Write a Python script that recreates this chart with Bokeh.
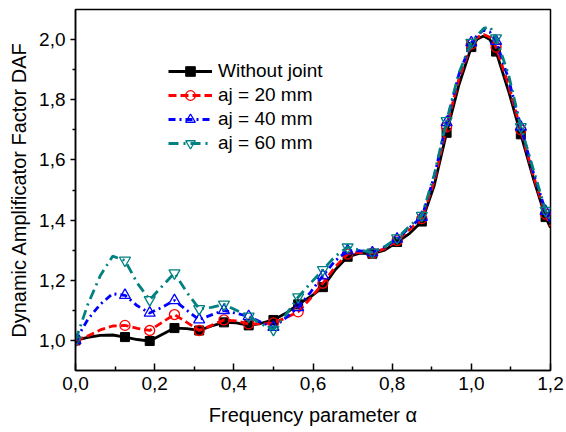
import numpy as np
from bokeh.plotting import figure
from bokeh.models import (Range1d, Legend, LegendItem, FixedTicker,
                          CustomJSTickFormatter)
from bokeh.embed import file_html
from bokeh.resources import INLINE

# ---------------- data ----------------
alpha = [0.0, 0.03125, 0.0625, 0.09375, 0.125, 0.15625, 0.1875, 0.21875, 0.25,
         0.28125, 0.3125, 0.34375, 0.375, 0.40625, 0.4375, 0.46875, 0.5,
         0.53125, 0.5625, 0.59375, 0.625, 0.65625, 0.6875, 0.71875, 0.75,
         0.78125, 0.8125, 0.84375, 0.875, 0.90625, 0.9375, 0.96875, 1.0,
         1.015625, 1.03125, 1.046875, 1.0625, 1.09375, 1.125, 1.15625, 1.1875, 1.2]

daf_without = [1.000, 1.010, 1.017, 1.018, 1.011, 1.003, 0.998, 1.020, 1.041,
               1.039, 1.033, 1.048, 1.060, 1.058, 1.050, 1.057, 1.068,
               1.090, 1.120, 1.145, 1.177, 1.235, 1.278, 1.290, 1.288,
               1.300, 1.327, 1.355, 1.395, 1.515, 1.690, 1.850, 1.975,
               2.002, 2.012, 2.000, 1.960, 1.830, 1.685, 1.540, 1.410, 1.375]

daf_aj20 = [1.000, 1.015, 1.035, 1.048, 1.050, 1.040, 1.033, 1.060, 1.086,
            1.060, 1.033, 1.050, 1.068, 1.065, 1.055, 1.055, 1.058,
            1.075, 1.095, 1.140, 1.190, 1.245, 1.287, 1.293, 1.290,
            1.305, 1.332, 1.368, 1.405, 1.530, 1.710, 1.870, 1.985,
            2.008, 2.017, 2.008, 1.975, 1.850, 1.700, 1.550, 1.420, 1.380]

daf_aj40 = [1.000, 1.070, 1.120, 1.155, 1.150, 1.115, 1.091, 1.110, 1.133,
            1.100, 1.069, 1.085, 1.100, 1.090, 1.080, 1.060, 1.044,
            1.075, 1.110, 1.160, 1.215, 1.265, 1.298, 1.298, 1.292,
            1.310, 1.337, 1.375, 1.410, 1.545, 1.725, 1.885, 1.990,
            2.015, 2.032, 2.025, 1.995, 1.870, 1.710, 1.560, 1.430, 1.390]

daf_aj60 = [1.000, 1.120, 1.215, 1.280, 1.266, 1.190, 1.135, 1.180, 1.224,
            1.160, 1.105, 1.110, 1.120, 1.100, 1.080, 1.055, 1.036,
            1.085, 1.144, 1.190, 1.235, 1.280, 1.310, 1.300, 1.293,
            1.312, 1.340, 1.380, 1.415, 1.550, 1.730, 1.890, 1.990,
            2.015, 2.037, 2.043, 2.005, 1.885, 1.710, 1.570, 1.432, 1.395]

marker_alpha = [0.0, 0.125, 0.1875, 0.25, 0.3125, 0.375, 0.4375, 0.5, 0.5625,
                0.625, 0.6875, 0.75, 0.8125, 0.875, 0.9375, 1.0, 1.0625,
                1.125, 1.1875]

series_labels = ["Without joint", "aj = 20 mm", "aj = 40 mm", "aj = 60 mm"]
x_title = "Frequency parameter α"
y_title = "Dynamic Amplificator Factor DAF"
x_ticks = [0.0, 0.2, 0.4, 0.6, 0.8, 1.0, 1.2]
x_minor = [0.1, 0.3, 0.5, 0.7, 0.9, 1.1]
y_ticks = [1.0, 1.2, 1.4, 1.6, 1.8, 2.0]
y_minor = [1.1, 1.3, 1.5, 1.7, 1.9]

# ---------------- figure ----------------
FONT = "Liberation Sans"

p = figure(width=564, height=432, output_backend="svg", toolbar_location=None,
           x_range=Range1d(0, 1.2), y_range=Range1d(0.9, 2.1),
           min_border_left=75, min_border_right=14, min_border_top=9,
           min_border_bottom=62)
p.grid.visible = False
p.outline_line_color = "black"
p.outline_line_width = 1.5
p.background_fill_color = "white"
p.border_fill_color = "white"

fmt = CustomJSTickFormatter(code="return tick.toFixed(1).replace('.', ',');")

xa = p.xaxis[0]
xa.ticker = FixedTicker(ticks=x_ticks, minor_ticks=x_minor)
xa.formatter = fmt
xa.major_tick_in = 7
xa.major_tick_out = 0
xa.minor_tick_in = 4
xa.minor_tick_out = 0
xa.major_label_standoff = 6
xa.axis_label = x_title
xa.axis_label_standoff = 11

ya = p.yaxis[0]
ya.ticker = FixedTicker(ticks=y_ticks, minor_ticks=y_minor)
ya.formatter = fmt
ya.major_tick_in = 0
ya.major_tick_out = 5
ya.minor_tick_in = 0
ya.minor_tick_out = 3
ya.major_label_standoff = 5
ya.axis_label = y_title
ya.axis_label_standoff = 6

for ax in (xa, ya):
    ax.axis_line_color = "black"
    ax.axis_line_width = 1.5
    ax.major_tick_line_color = "black"
    ax.major_tick_line_width = 1.5
    ax.minor_tick_line_color = "black"
    ax.minor_tick_line_width = 1.5
    ax.major_label_text_font = FONT
    ax.major_label_text_font_size = "19px"
    ax.major_label_text_color = "black"
    ax.axis_label_text_font = FONT
    ax.axis_label_text_font_size = "20px"
    ax.axis_label_text_font_style = "normal"
    ax.axis_label_text_color = "black"

# ---------------- series ----------------
x = np.array(alpha)
mask = np.isin(x, np.array(marker_alpha))

styles = [
    dict(y=daf_without, color="black", dash="solid", marker="square",
         size=9, fill="black"),
    dict(y=daf_aj20, color="#ff0000", dash="8 4", marker="circle",
         size=10, fill=None),
    dict(y=daf_aj40, color="#0000ff", dash="7 4 2 4", marker="triangle",
         size=11, fill=None),
    dict(y=daf_aj60, color="#008080", dash="10 5 2 5",
         marker="inverted_triangle", size=11, fill=None),
]

items = []
for lab, st in zip(series_labels, styles):
    yv = np.array(st["y"])
    ln = p.line(x, yv, line_color=st["color"], line_width=2.8,
                line_dash=st["dash"])
    if st["fill"] is None:
        sc = p.scatter(x[mask], yv[mask], marker=st["marker"], size=st["size"],
                       line_color=st["color"], line_width=1.3, fill_alpha=0)
    else:
        sc = p.scatter(x[mask], yv[mask], marker=st["marker"], size=st["size"],
                       line_color=st["color"], fill_color=st["fill"])
    items.append(LegendItem(label=lab, renderers=[ln, sc]))

legend = Legend(items=items, location=(93, 215), padding=0, spacing=0,
                margin=0, glyph_width=44, glyph_height=24, label_height=24,
                label_standoff=6, label_text_font=FONT,
                label_text_font_size="19px", label_text_color="black",
                background_fill_alpha=0, border_line_alpha=0)
p.add_layout(legend)

open("out.html", "w").write(file_html(p, INLINE))
